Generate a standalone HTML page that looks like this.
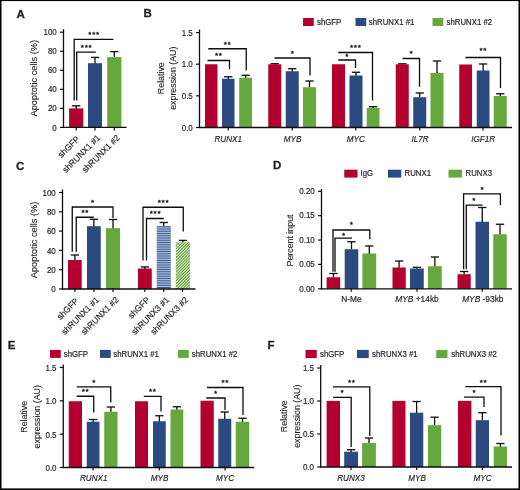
<!DOCTYPE html>
<html lang="en">
<head>
<meta charset="utf-8">
<title>Figure: RUNX1 / RUNX3 knockdown</title>
<style>
html,body{margin:0;padding:0;background:#fff;}
body{width:520px;height:490px;overflow:hidden;}
svg{display:block;}
svg text{font-family:"Liberation Sans",Arial,Helvetica,sans-serif;fill:#231f20;stroke:#231f20;stroke-linejoin:round;}
</style>
</head>
<body>
<svg width="520" height="490" viewBox="0 0 520 490" role="img" aria-label="Bar charts, panels A to F">
<defs>
<filter id="soft" x="-2%" y="-2%" width="104%" height="104%" color-interpolation-filters="sRGB"><feGaussianBlur stdDeviation="0.38"/></filter>
<pattern id="hb" width="2.25" height="2.25" patternUnits="userSpaceOnUse">
<rect width="2.25" height="2.25" fill="#a9bad8"/><rect y="0.4" width="2.25" height="1.05" fill="#3f5c92"/>
</pattern>
<pattern id="hg" width="2.05" height="2.05" patternUnits="userSpaceOnUse" patternTransform="rotate(-45)">
<rect width="2.05" height="2.05" fill="#e6f1dc"/><rect y="0.3" width="2.05" height="1.08" fill="#5a9f31"/>
</pattern>
</defs>
<rect x="0" y="0" width="520" height="490" fill="#ffffff"/>
<g filter="url(#soft)">
<text transform="translate(16.4 18)" font-size="11.6" stroke-width="0.28" font-weight="bold">A</text>
<text transform="translate(143.4 17.4)" font-size="11.5" stroke-width="0.28" font-weight="bold">B</text>
<text transform="translate(16 169.7)" font-size="11.5" stroke-width="0.28" font-weight="bold">C</text>
<text transform="translate(272.9 169.1)" font-size="11.5" stroke-width="0.28" font-weight="bold">D</text>
<text transform="translate(7.8 349.2)" font-size="11.5" stroke-width="0.28" font-weight="bold">E</text>
<text transform="translate(267.6 349)" font-size="11.5" stroke-width="0.28" font-weight="bold">F</text>
<line x1="63.5" y1="29.2" x2="63.5" y2="127.9" stroke="#0d0d0d" stroke-width="1.3"/>
<line x1="60" y1="127.4" x2="63.5" y2="127.4" stroke="#0d0d0d" stroke-width="1.2"/>
<text transform="translate(56.8 130.52) scale(0.95 1)" font-size="8.4" stroke-width="0.18" text-anchor="end">0</text>
<line x1="60" y1="108.36" x2="63.5" y2="108.36" stroke="#0d0d0d" stroke-width="1.2"/>
<text transform="translate(56.8 111.48) scale(0.95 1)" font-size="8.4" stroke-width="0.18" text-anchor="end">20</text>
<line x1="60" y1="89.32" x2="63.5" y2="89.32" stroke="#0d0d0d" stroke-width="1.2"/>
<text transform="translate(56.8 92.44) scale(0.95 1)" font-size="8.4" stroke-width="0.18" text-anchor="end">40</text>
<line x1="60" y1="70.28" x2="63.5" y2="70.28" stroke="#0d0d0d" stroke-width="1.2"/>
<text transform="translate(56.8 73.4) scale(0.95 1)" font-size="8.4" stroke-width="0.18" text-anchor="end">60</text>
<line x1="60" y1="51.24" x2="63.5" y2="51.24" stroke="#0d0d0d" stroke-width="1.2"/>
<text transform="translate(56.8 54.36) scale(0.95 1)" font-size="8.4" stroke-width="0.18" text-anchor="end">80</text>
<line x1="60" y1="32.2" x2="63.5" y2="32.2" stroke="#0d0d0d" stroke-width="1.2"/>
<text transform="translate(56.8 35.32) scale(0.95 1)" font-size="8.4" stroke-width="0.18" text-anchor="end">100</text>
<line x1="76.2" y1="105.8" x2="76.2" y2="108.9" stroke="#0d0d0d" stroke-width="1.3"/>
<line x1="72.05" y1="105.8" x2="80.35" y2="105.8" stroke="#0d0d0d" stroke-width="1.3"/>
<rect x="69.1" y="108.4" width="14.2" height="19" fill="#b3002f"/>
<line x1="95" y1="57.4" x2="95" y2="63.7" stroke="#0d0d0d" stroke-width="1.3"/>
<line x1="90.85" y1="57.4" x2="99.15" y2="57.4" stroke="#0d0d0d" stroke-width="1.3"/>
<rect x="88" y="63.2" width="14" height="64.2" fill="#2a4a80"/>
<line x1="114.3" y1="51.6" x2="114.3" y2="57.6" stroke="#0d0d0d" stroke-width="1.3"/>
<line x1="110.15" y1="51.6" x2="118.45" y2="51.6" stroke="#0d0d0d" stroke-width="1.3"/>
<rect x="107.2" y="57.1" width="14.2" height="70.3" fill="#67a83e"/>
<line x1="62.85" y1="127.4" x2="126.5" y2="127.4" stroke="#0d0d0d" stroke-width="1.3"/>
<line x1="76.2" y1="127.4" x2="76.2" y2="130.4" stroke="#0d0d0d" stroke-width="1.2"/>
<line x1="95" y1="127.4" x2="95" y2="130.4" stroke="#0d0d0d" stroke-width="1.2"/>
<line x1="114.3" y1="127.4" x2="114.3" y2="130.4" stroke="#0d0d0d" stroke-width="1.2"/>
<text transform="translate(94.17 37.1)" font-size="8" stroke-width="0.4" text-anchor="middle" letter-spacing="0.75">***</text>
<path d="M74.2 100.6 L74.2 39.3 L113.4 39.3" fill="none" stroke="#0d0d0d" stroke-width="1.3"/>
<text transform="translate(86.62 49.9)" font-size="8" stroke-width="0.4" text-anchor="middle" letter-spacing="0.75">***</text>
<path d="M76.7 100.6 L76.7 52.1 L95.8 52.1" fill="none" stroke="#0d0d0d" stroke-width="1.3"/>
<text transform="translate(37.1 78.2) rotate(-90) scale(0.94 1)" font-size="9.85" stroke-width="0.12" text-anchor="middle">Apoptotic cells (%)</text>
<text transform="translate(78 137.5) rotate(-45) scale(0.96 1)" font-size="8.8" stroke-width="0.18" text-anchor="end" dominant-baseline="central">shGFP</text>
<text transform="translate(98.7 136.3) rotate(-45) scale(0.96 1)" font-size="8.8" stroke-width="0.18" text-anchor="end" dominant-baseline="central">shRUNX1 #1</text>
<text transform="translate(118.2 136.3) rotate(-45) scale(0.96 1)" font-size="8.8" stroke-width="0.18" text-anchor="end" dominant-baseline="central">shRUNX1 #2</text>
<g transform="translate(0 0.5)">
<line x1="199.5" y1="29" x2="199.5" y2="127.5" stroke="#0d0d0d" stroke-width="1.3"/>
<line x1="196" y1="127" x2="199.5" y2="127" stroke="#0d0d0d" stroke-width="1.2"/>
<text transform="translate(192.8 130.12) scale(0.95 1)" font-size="8.4" stroke-width="0.18" text-anchor="end">0.0</text>
<line x1="196" y1="95.35" x2="199.5" y2="95.35" stroke="#0d0d0d" stroke-width="1.2"/>
<text transform="translate(192.8 98.47) scale(0.95 1)" font-size="8.4" stroke-width="0.18" text-anchor="end">0.5</text>
<line x1="196" y1="63.7" x2="199.5" y2="63.7" stroke="#0d0d0d" stroke-width="1.2"/>
<text transform="translate(192.8 66.82) scale(0.95 1)" font-size="8.4" stroke-width="0.18" text-anchor="end">1.0</text>
<line x1="196" y1="32.05" x2="199.5" y2="32.05" stroke="#0d0d0d" stroke-width="1.2"/>
<text transform="translate(192.8 35.17) scale(0.95 1)" font-size="8.4" stroke-width="0.18" text-anchor="end">1.5</text>
<rect x="205" y="63.75" width="12.5" height="63.25" fill="#b3002f"/>
<line x1="228.25" y1="76.25" x2="228.25" y2="78.75" stroke="#0d0d0d" stroke-width="1.3"/>
<line x1="224.1" y1="76.25" x2="232.4" y2="76.25" stroke="#0d0d0d" stroke-width="1.3"/>
<rect x="222" y="78.25" width="12.5" height="48.75" fill="#2a4a80"/>
<line x1="245.62" y1="74.75" x2="245.62" y2="77.75" stroke="#0d0d0d" stroke-width="1.3"/>
<line x1="241.47" y1="74.75" x2="249.78" y2="74.75" stroke="#0d0d0d" stroke-width="1.3"/>
<rect x="239.25" y="77.25" width="12.75" height="49.75" fill="#67a83e"/>
<line x1="274.75" y1="63.2" x2="274.75" y2="64.25" stroke="#0d0d0d" stroke-width="1.3"/>
<line x1="270.6" y1="63.2" x2="278.9" y2="63.2" stroke="#0d0d0d" stroke-width="1.3"/>
<rect x="268.25" y="63.75" width="13" height="63.25" fill="#b3002f"/>
<line x1="292.25" y1="68.25" x2="292.25" y2="71.25" stroke="#0d0d0d" stroke-width="1.3"/>
<line x1="288.1" y1="68.25" x2="296.4" y2="68.25" stroke="#0d0d0d" stroke-width="1.3"/>
<rect x="285.75" y="70.75" width="13" height="56.25" fill="#2a4a80"/>
<line x1="309.5" y1="80.5" x2="309.5" y2="87.25" stroke="#0d0d0d" stroke-width="1.3"/>
<line x1="305.35" y1="80.5" x2="313.65" y2="80.5" stroke="#0d0d0d" stroke-width="1.3"/>
<rect x="303" y="86.75" width="13" height="40.25" fill="#67a83e"/>
<rect x="332" y="63.75" width="13" height="63.25" fill="#b3002f"/>
<line x1="356" y1="71.75" x2="356" y2="75.5" stroke="#0d0d0d" stroke-width="1.3"/>
<line x1="351.85" y1="71.75" x2="360.15" y2="71.75" stroke="#0d0d0d" stroke-width="1.3"/>
<rect x="349.5" y="75" width="13" height="52" fill="#2a4a80"/>
<line x1="373.12" y1="106.25" x2="373.12" y2="108" stroke="#0d0d0d" stroke-width="1.3"/>
<line x1="368.98" y1="106.25" x2="377.27" y2="106.25" stroke="#0d0d0d" stroke-width="1.3"/>
<rect x="366.75" y="107.5" width="12.75" height="19.5" fill="#67a83e"/>
<line x1="402.25" y1="63.3" x2="402.25" y2="64.25" stroke="#0d0d0d" stroke-width="1.3"/>
<line x1="398.1" y1="63.3" x2="406.4" y2="63.3" stroke="#0d0d0d" stroke-width="1.3"/>
<rect x="395.75" y="63.75" width="13" height="63.25" fill="#b3002f"/>
<line x1="419.75" y1="92.5" x2="419.75" y2="97.25" stroke="#0d0d0d" stroke-width="1.3"/>
<line x1="415.6" y1="92.5" x2="423.9" y2="92.5" stroke="#0d0d0d" stroke-width="1.3"/>
<rect x="413.25" y="96.75" width="13" height="30.25" fill="#2a4a80"/>
<line x1="437" y1="60.5" x2="437" y2="73" stroke="#0d0d0d" stroke-width="1.3"/>
<line x1="432.85" y1="60.5" x2="441.15" y2="60.5" stroke="#0d0d0d" stroke-width="1.3"/>
<rect x="430.5" y="72.5" width="13" height="54.5" fill="#67a83e"/>
<rect x="459.25" y="64" width="12.75" height="63" fill="#b3002f"/>
<line x1="483.12" y1="63.5" x2="483.12" y2="70.5" stroke="#0d0d0d" stroke-width="1.3"/>
<line x1="478.98" y1="63.5" x2="487.27" y2="63.5" stroke="#0d0d0d" stroke-width="1.3"/>
<rect x="476.75" y="70" width="12.75" height="57" fill="#2a4a80"/>
<line x1="500.25" y1="93.25" x2="500.25" y2="96" stroke="#0d0d0d" stroke-width="1.3"/>
<line x1="496.1" y1="93.25" x2="504.4" y2="93.25" stroke="#0d0d0d" stroke-width="1.3"/>
<rect x="493.75" y="95.5" width="13" height="31.5" fill="#67a83e"/>
<line x1="198.85" y1="127" x2="512" y2="127" stroke="#0d0d0d" stroke-width="1.3"/>
<line x1="228.25" y1="127" x2="228.25" y2="130" stroke="#0d0d0d" stroke-width="1.2"/>
<line x1="292.25" y1="127" x2="292.25" y2="130" stroke="#0d0d0d" stroke-width="1.2"/>
<line x1="355.75" y1="127" x2="355.75" y2="130" stroke="#0d0d0d" stroke-width="1.2"/>
<line x1="419.75" y1="127" x2="419.75" y2="130" stroke="#0d0d0d" stroke-width="1.2"/>
<line x1="483" y1="127" x2="483" y2="130" stroke="#0d0d0d" stroke-width="1.2"/>
<text transform="translate(227.62 46.05)" font-size="8" stroke-width="0.4" text-anchor="middle" letter-spacing="0.75">**</text>
<path d="M208.25 48.25 L246.25 48.25 L246.25 70" fill="none" stroke="#0d0d0d" stroke-width="1.3"/>
<text transform="translate(218.87 57.8)" font-size="8" stroke-width="0.4" text-anchor="middle" letter-spacing="0.75">**</text>
<path d="M207.5 60 L229.5 60 L229.5 68.75" fill="none" stroke="#0d0d0d" stroke-width="1.3"/>
<text transform="translate(292.62 55.3)" font-size="8" stroke-width="0.4" text-anchor="middle" letter-spacing="0.75">*</text>
<path d="M274.5 57.5 L310 57.5 L310 75" fill="none" stroke="#0d0d0d" stroke-width="1.3"/>
<text transform="translate(355.75 49.8)" font-size="8" stroke-width="0.4" text-anchor="middle" letter-spacing="0.75">***</text>
<path d="M338.25 52 L372.5 52 L372.5 100" fill="none" stroke="#0d0d0d" stroke-width="1.3"/>
<text transform="translate(347.25 58.8)" font-size="8" stroke-width="0.4" text-anchor="middle" letter-spacing="0.75">*</text>
<path d="M338.25 59.5 L355.5 59.5 L355.5 67.5" fill="none" stroke="#0d0d0d" stroke-width="1.3"/>
<text transform="translate(411.37 55.8)" font-size="8" stroke-width="0.4" text-anchor="middle" letter-spacing="0.75">*</text>
<path d="M402.5 58 L419.5 58 L419.5 86.25" fill="none" stroke="#0d0d0d" stroke-width="1.3"/>
<text transform="translate(483.37 52)" font-size="8" stroke-width="0.4" text-anchor="middle" letter-spacing="0.75">**</text>
<path d="M465.5 57 L500.5 57 L500.5 87.5" fill="none" stroke="#0d0d0d" stroke-width="1.3"/>
<text transform="translate(228.25 141.2) scale(0.95 1)" font-size="8.6" stroke-width="0.18" text-anchor="middle" font-style="italic">RUNX1</text>
<text transform="translate(292.5 141.2) scale(0.95 1)" font-size="8.6" stroke-width="0.18" text-anchor="middle" font-style="italic">MYB</text>
<text transform="translate(355.75 141.2) scale(0.95 1)" font-size="8.6" stroke-width="0.18" text-anchor="middle" font-style="italic">MYC</text>
<text transform="translate(420 141.2) scale(0.95 1)" font-size="8.6" stroke-width="0.18" text-anchor="middle" font-style="italic">IL7R</text>
<text transform="translate(483.25 141.2) scale(0.95 1)" font-size="8.6" stroke-width="0.18" text-anchor="middle" font-style="italic">IGF1R</text>
<text transform="translate(163.6 77.7) rotate(-90) scale(0.94 1)" font-size="9.4" stroke-width="0.12" text-anchor="middle">Relative</text>
<text transform="translate(176 77.7) rotate(-90) scale(0.94 1)" font-size="9.4" stroke-width="0.12" text-anchor="middle">expression (AU)</text>
<rect x="303" y="17.5" width="10.75" height="8" fill="#b3002f"/>
<text transform="translate(317 24.2) scale(0.93 1)" font-size="8.4" stroke-width="0.2">shGFP</text>
<rect x="355.5" y="17.5" width="10.75" height="8" fill="#2a4a80"/>
<text transform="translate(368.75 24.2) scale(0.93 1)" font-size="8.4" stroke-width="0.2">shRUNX1 #1</text>
<rect x="432.5" y="17.5" width="10.75" height="8" fill="#67a83e"/>
<text transform="translate(446.5 24.2) scale(0.93 1)" font-size="8.4" stroke-width="0.2">shRUNX1 #2</text>
<line x1="62.5" y1="189" x2="62.5" y2="289" stroke="#0d0d0d" stroke-width="1.3"/>
<line x1="59" y1="288.5" x2="62.5" y2="288.5" stroke="#0d0d0d" stroke-width="1.2"/>
<text transform="translate(55.8 291.62) scale(0.95 1)" font-size="8.4" stroke-width="0.18" text-anchor="end">0</text>
<line x1="59" y1="269.2" x2="62.5" y2="269.2" stroke="#0d0d0d" stroke-width="1.2"/>
<text transform="translate(55.8 272.32) scale(0.95 1)" font-size="8.4" stroke-width="0.18" text-anchor="end">20</text>
<line x1="59" y1="249.9" x2="62.5" y2="249.9" stroke="#0d0d0d" stroke-width="1.2"/>
<text transform="translate(55.8 253.02) scale(0.95 1)" font-size="8.4" stroke-width="0.18" text-anchor="end">40</text>
<line x1="59" y1="230.6" x2="62.5" y2="230.6" stroke="#0d0d0d" stroke-width="1.2"/>
<text transform="translate(55.8 233.72) scale(0.95 1)" font-size="8.4" stroke-width="0.18" text-anchor="end">60</text>
<line x1="59" y1="211.3" x2="62.5" y2="211.3" stroke="#0d0d0d" stroke-width="1.2"/>
<text transform="translate(55.8 214.42) scale(0.95 1)" font-size="8.4" stroke-width="0.18" text-anchor="end">80</text>
<line x1="59" y1="192" x2="62.5" y2="192" stroke="#0d0d0d" stroke-width="1.2"/>
<text transform="translate(55.8 195.12) scale(0.95 1)" font-size="8.4" stroke-width="0.18" text-anchor="end">100</text>
<line x1="74.88" y1="254.5" x2="74.88" y2="260" stroke="#0d0d0d" stroke-width="1.3"/>
<line x1="70.72" y1="254.5" x2="79.03" y2="254.5" stroke="#0d0d0d" stroke-width="1.3"/>
<rect x="68" y="259.5" width="13.75" height="29" fill="#b3002f"/>
<line x1="93.88" y1="218.75" x2="93.88" y2="226.2" stroke="#0d0d0d" stroke-width="1.3"/>
<line x1="89.72" y1="218.75" x2="98.03" y2="218.75" stroke="#0d0d0d" stroke-width="1.3"/>
<rect x="87" y="225.7" width="13.75" height="62.8" fill="#2a4a80"/>
<line x1="113" y1="219" x2="113" y2="228.2" stroke="#0d0d0d" stroke-width="1.3"/>
<line x1="108.85" y1="219" x2="117.15" y2="219" stroke="#0d0d0d" stroke-width="1.3"/>
<rect x="106" y="227.7" width="14" height="60.8" fill="#67a83e"/>
<line x1="144.88" y1="266.4" x2="144.88" y2="268.5" stroke="#0d0d0d" stroke-width="1.3"/>
<line x1="140.72" y1="266.4" x2="149.03" y2="266.4" stroke="#0d0d0d" stroke-width="1.3"/>
<rect x="138" y="268" width="13.75" height="20.5" fill="#b3002f"/>
<line x1="163.75" y1="222" x2="163.75" y2="226.2" stroke="#0d0d0d" stroke-width="1.3"/>
<line x1="159.6" y1="222" x2="167.9" y2="222" stroke="#0d0d0d" stroke-width="1.3"/>
<rect x="156.75" y="225.7" width="14" height="62.8" fill="#a9bad8"/>
<path d="M156.75 225.7h14v1.15h-14zM156.75 227.95h14v1.15h-14zM156.75 230.2h14v1.15h-14zM156.75 232.45h14v1.15h-14zM156.75 234.7h14v1.15h-14zM156.75 236.95h14v1.15h-14zM156.75 239.2h14v1.15h-14zM156.75 241.45h14v1.15h-14zM156.75 243.7h14v1.15h-14zM156.75 245.95h14v1.15h-14zM156.75 248.2h14v1.15h-14zM156.75 250.45h14v1.15h-14zM156.75 252.7h14v1.15h-14zM156.75 254.95h14v1.15h-14zM156.75 257.2h14v1.15h-14zM156.75 259.45h14v1.15h-14zM156.75 261.7h14v1.15h-14zM156.75 263.95h14v1.15h-14zM156.75 266.2h14v1.15h-14zM156.75 268.45h14v1.15h-14zM156.75 270.7h14v1.15h-14zM156.75 272.95h14v1.15h-14zM156.75 275.2h14v1.15h-14zM156.75 277.45h14v1.15h-14zM156.75 279.7h14v1.15h-14zM156.75 281.95h14v1.15h-14zM156.75 284.2h14v1.15h-14zM156.75 286.45h14v1.15h-14z" fill="#3f5c92"/>
<line x1="182.85" y1="239.9" x2="182.85" y2="242.2" stroke="#0d0d0d" stroke-width="1.3"/>
<line x1="178.7" y1="239.9" x2="187" y2="239.9" stroke="#0d0d0d" stroke-width="1.3"/>
<rect x="175.8" y="241.7" width="14.1" height="46.8" fill="url(#hg)"/>
<line x1="61.85" y1="288.5" x2="195.5" y2="288.5" stroke="#0d0d0d" stroke-width="1.3"/>
<line x1="74.9" y1="288.5" x2="74.9" y2="291.5" stroke="#0d0d0d" stroke-width="1.2"/>
<line x1="93.9" y1="288.5" x2="93.9" y2="291.5" stroke="#0d0d0d" stroke-width="1.2"/>
<line x1="113" y1="288.5" x2="113" y2="291.5" stroke="#0d0d0d" stroke-width="1.2"/>
<line x1="144.9" y1="288.5" x2="144.9" y2="291.5" stroke="#0d0d0d" stroke-width="1.2"/>
<line x1="163.75" y1="288.5" x2="163.75" y2="291.5" stroke="#0d0d0d" stroke-width="1.2"/>
<line x1="182.5" y1="288.5" x2="182.5" y2="291.5" stroke="#0d0d0d" stroke-width="1.2"/>
<text transform="translate(93 204.3)" font-size="8" stroke-width="0.4" text-anchor="middle" letter-spacing="0.75">*</text>
<path d="M72.25 251.25 L72.25 206.5 L113 206.5 L113 217.5" fill="none" stroke="#0d0d0d" stroke-width="1.3"/>
<text transform="translate(85.37 214.55)" font-size="8" stroke-width="0.4" text-anchor="middle" letter-spacing="0.75">**</text>
<path d="M76.25 251.25 L76.25 216.75 L93.75 216.75" fill="none" stroke="#0d0d0d" stroke-width="1.3"/>
<text transform="translate(163.5 204.55)" font-size="8" stroke-width="0.4" text-anchor="middle" letter-spacing="0.75">***</text>
<path d="M143 260 L143 206.75 L183.25 206.75 L183.25 231" fill="none" stroke="#0d0d0d" stroke-width="1.3"/>
<text transform="translate(155.5 215.8)" font-size="8" stroke-width="0.4" text-anchor="middle" letter-spacing="0.75">***</text>
<path d="M146.5 260 L146.5 218 L163.75 218" fill="none" stroke="#0d0d0d" stroke-width="1.3"/>
<text transform="translate(37 239.4) rotate(-90) scale(0.94 1)" font-size="9.85" stroke-width="0.12" text-anchor="middle">Apoptotic cells (%)</text>
<text transform="translate(76.9 299) rotate(-45) scale(0.96 1)" font-size="8.8" stroke-width="0.18" text-anchor="end" dominant-baseline="central">shGFP</text>
<text transform="translate(97.7 297.8) rotate(-45) scale(0.96 1)" font-size="8.8" stroke-width="0.18" text-anchor="end" dominant-baseline="central">shRUNX1 #1</text>
<text transform="translate(117.2 297.8) rotate(-45) scale(0.96 1)" font-size="8.8" stroke-width="0.18" text-anchor="end" dominant-baseline="central">shRUNX1 #2</text>
<text transform="translate(148.2 297.8) rotate(-45) scale(0.96 1)" font-size="8.8" stroke-width="0.18" text-anchor="end" dominant-baseline="central">shGFP</text>
<text transform="translate(167.7 297.8) rotate(-45) scale(0.96 1)" font-size="8.8" stroke-width="0.18" text-anchor="end" dominant-baseline="central">shRUNX3 #1</text>
<text transform="translate(186.7 297.8) rotate(-45) scale(0.96 1)" font-size="8.8" stroke-width="0.18" text-anchor="end" dominant-baseline="central">shRUNX3 #2</text>
<line x1="321.5" y1="188.5" x2="321.5" y2="288.8" stroke="#0d0d0d" stroke-width="1.3"/>
<line x1="318" y1="288.3" x2="321.5" y2="288.3" stroke="#0d0d0d" stroke-width="1.2"/>
<text transform="translate(314.8 291.02) scale(0.95 1)" font-size="8.4" stroke-width="0.18" text-anchor="end">0.00</text>
<line x1="318" y1="263.93" x2="321.5" y2="263.93" stroke="#0d0d0d" stroke-width="1.2"/>
<text transform="translate(314.8 266.65) scale(0.95 1)" font-size="8.4" stroke-width="0.18" text-anchor="end">0.05</text>
<line x1="318" y1="239.55" x2="321.5" y2="239.55" stroke="#0d0d0d" stroke-width="1.2"/>
<text transform="translate(314.8 242.27) scale(0.95 1)" font-size="8.4" stroke-width="0.18" text-anchor="end">0.10</text>
<line x1="318" y1="215.18" x2="321.5" y2="215.18" stroke="#0d0d0d" stroke-width="1.2"/>
<text transform="translate(314.8 217.9) scale(0.95 1)" font-size="8.4" stroke-width="0.18" text-anchor="end">0.15</text>
<line x1="318" y1="190.8" x2="321.5" y2="190.8" stroke="#0d0d0d" stroke-width="1.2"/>
<text transform="translate(314.8 193.52) scale(0.95 1)" font-size="8.4" stroke-width="0.18" text-anchor="end">0.20</text>
<line x1="333.4" y1="273" x2="333.4" y2="277.25" stroke="#0d0d0d" stroke-width="1.3"/>
<line x1="329.25" y1="273" x2="337.55" y2="273" stroke="#0d0d0d" stroke-width="1.3"/>
<rect x="326.6" y="276.75" width="13.6" height="11.55" fill="#b3002f"/>
<line x1="351.5" y1="241.25" x2="351.5" y2="249.25" stroke="#0d0d0d" stroke-width="1.3"/>
<line x1="347.35" y1="241.25" x2="355.65" y2="241.25" stroke="#0d0d0d" stroke-width="1.3"/>
<rect x="344.7" y="248.75" width="13.6" height="39.55" fill="#2a4a80"/>
<line x1="369.3" y1="245.5" x2="369.3" y2="253.5" stroke="#0d0d0d" stroke-width="1.3"/>
<line x1="365.15" y1="245.5" x2="373.45" y2="245.5" stroke="#0d0d0d" stroke-width="1.3"/>
<rect x="362.4" y="253" width="13.8" height="35.3" fill="#67a83e"/>
<line x1="399.12" y1="260.5" x2="399.12" y2="267.5" stroke="#0d0d0d" stroke-width="1.3"/>
<line x1="394.98" y1="260.5" x2="403.27" y2="260.5" stroke="#0d0d0d" stroke-width="1.3"/>
<rect x="392.5" y="267" width="13.25" height="21.3" fill="#b3002f"/>
<line x1="416.88" y1="266.8" x2="416.88" y2="268.5" stroke="#0d0d0d" stroke-width="1.3"/>
<line x1="412.73" y1="266.8" x2="421.02" y2="266.8" stroke="#0d0d0d" stroke-width="1.3"/>
<rect x="410" y="268" width="13.75" height="20.3" fill="#2a4a80"/>
<line x1="434.88" y1="256.5" x2="434.88" y2="266.25" stroke="#0d0d0d" stroke-width="1.3"/>
<line x1="430.73" y1="256.5" x2="439.02" y2="256.5" stroke="#0d0d0d" stroke-width="1.3"/>
<rect x="428" y="265.75" width="13.75" height="22.55" fill="#67a83e"/>
<line x1="464.12" y1="271" x2="464.12" y2="274.25" stroke="#0d0d0d" stroke-width="1.3"/>
<line x1="459.98" y1="271" x2="468.27" y2="271" stroke="#0d0d0d" stroke-width="1.3"/>
<rect x="457.5" y="273.75" width="13.25" height="14.55" fill="#b3002f"/>
<line x1="482.25" y1="207" x2="482.25" y2="221.75" stroke="#0d0d0d" stroke-width="1.3"/>
<line x1="478.1" y1="207" x2="486.4" y2="207" stroke="#0d0d0d" stroke-width="1.3"/>
<rect x="475.5" y="221.25" width="13.5" height="67.05" fill="#2a4a80"/>
<line x1="500" y1="223.75" x2="500" y2="234.25" stroke="#0d0d0d" stroke-width="1.3"/>
<line x1="495.85" y1="223.75" x2="504.15" y2="223.75" stroke="#0d0d0d" stroke-width="1.3"/>
<rect x="493.25" y="233.75" width="13.5" height="54.55" fill="#67a83e"/>
<line x1="320.85" y1="288.3" x2="512" y2="288.3" stroke="#0d0d0d" stroke-width="1.3"/>
<line x1="351.2" y1="288.3" x2="351.2" y2="291.3" stroke="#0d0d0d" stroke-width="1.2"/>
<line x1="417" y1="288.3" x2="417" y2="291.3" stroke="#0d0d0d" stroke-width="1.2"/>
<line x1="482.2" y1="288.3" x2="482.2" y2="291.3" stroke="#0d0d0d" stroke-width="1.2"/>
<text transform="translate(351.77 226.4)" font-size="8" stroke-width="0.4" text-anchor="middle" letter-spacing="0.75">*</text>
<path d="M333 271.25 L333 229.5 L369.8 229.5 L369.8 238.75" fill="none" stroke="#0d0d0d" stroke-width="1.3"/>
<text transform="translate(343.87 237.3)" font-size="8" stroke-width="0.4" text-anchor="middle" letter-spacing="0.75">*</text>
<path d="M335 271.25 L335 237.7 L352 237.7" fill="none" stroke="#0d0d0d" stroke-width="1.3"/>
<text transform="translate(482.37 191.2)" font-size="8" stroke-width="0.4" text-anchor="middle" letter-spacing="0.75">*</text>
<path d="M463.6 268.75 L463.6 193.4 L500.4 193.4 L500.4 204.5" fill="none" stroke="#0d0d0d" stroke-width="1.3"/>
<text transform="translate(474.27 202.9)" font-size="8" stroke-width="0.4" text-anchor="middle" letter-spacing="0.75">*</text>
<path d="M466.3 268.75 L466.3 204.6 L482.5 204.6" fill="none" stroke="#0d0d0d" stroke-width="1.3"/>
<text transform="translate(351.5 301.7) scale(0.95 1)" font-size="8.8" stroke-width="0.18" text-anchor="middle">N-Me</text>
<text transform="translate(417 301.7) scale(0.95 1)" font-size="8.8" stroke-width="0.18" text-anchor="middle"><tspan font-style="italic">MYB</tspan> +14kb</text>
<text transform="translate(482.8 301.7) scale(0.95 1)" font-size="8.8" stroke-width="0.18" text-anchor="middle"><tspan font-style="italic">MYB</tspan> -93kb</text>
<text transform="translate(292.5 240) rotate(-90) scale(0.94 1)" font-size="9.4" stroke-width="0.12" text-anchor="middle">Percent input</text>
<rect x="344.25" y="169.2" width="13.25" height="7.9" fill="#b3002f"/>
<text transform="translate(360.5 175.8) scale(0.93 1)" font-size="8.4" stroke-width="0.2">IgG</text>
<rect x="388" y="169.2" width="13.25" height="7.9" fill="#2a4a80"/>
<text transform="translate(404.5 175.8) scale(0.93 1)" font-size="8.4" stroke-width="0.2">RUNX1</text>
<rect x="448.5" y="169.2" width="13.5" height="7.9" fill="#67a83e"/>
<text transform="translate(465.5 175.8) scale(0.93 1)" font-size="8.4" stroke-width="0.2">RUNX3</text>
<line x1="63.25" y1="364" x2="63.25" y2="467.5" stroke="#0d0d0d" stroke-width="1.3"/>
<line x1="59.75" y1="467" x2="63.25" y2="467" stroke="#0d0d0d" stroke-width="1.2"/>
<text transform="translate(56.55 470.52) scale(0.95 1)" font-size="8.4" stroke-width="0.18" text-anchor="end">0.0</text>
<line x1="59.75" y1="433.65" x2="63.25" y2="433.65" stroke="#0d0d0d" stroke-width="1.2"/>
<text transform="translate(56.55 437.17) scale(0.95 1)" font-size="8.4" stroke-width="0.18" text-anchor="end">0.5</text>
<line x1="59.75" y1="400.3" x2="63.25" y2="400.3" stroke="#0d0d0d" stroke-width="1.2"/>
<text transform="translate(56.55 403.82) scale(0.95 1)" font-size="8.4" stroke-width="0.18" text-anchor="end">1.0</text>
<line x1="59.75" y1="366.95" x2="63.25" y2="366.95" stroke="#0d0d0d" stroke-width="1.2"/>
<text transform="translate(56.55 370.47) scale(0.95 1)" font-size="8.4" stroke-width="0.18" text-anchor="end">1.5</text>
<rect x="68.75" y="400.75" width="13.25" height="66.25" fill="#b3002f"/>
<line x1="93.12" y1="419" x2="93.12" y2="421.75" stroke="#0d0d0d" stroke-width="1.3"/>
<line x1="88.97" y1="419" x2="97.28" y2="419" stroke="#0d0d0d" stroke-width="1.3"/>
<rect x="86.75" y="421.25" width="12.75" height="45.75" fill="#2a4a80"/>
<line x1="110.88" y1="406.5" x2="110.88" y2="411.75" stroke="#0d0d0d" stroke-width="1.3"/>
<line x1="106.72" y1="406.5" x2="115.03" y2="406.5" stroke="#0d0d0d" stroke-width="1.3"/>
<rect x="104.25" y="411.25" width="13.25" height="55.75" fill="#67a83e"/>
<rect x="135" y="400.75" width="13" height="66.25" fill="#b3002f"/>
<line x1="159.38" y1="415.25" x2="159.38" y2="421.25" stroke="#0d0d0d" stroke-width="1.3"/>
<line x1="155.22" y1="415.25" x2="163.53" y2="415.25" stroke="#0d0d0d" stroke-width="1.3"/>
<rect x="153" y="420.75" width="12.75" height="46.25" fill="#2a4a80"/>
<line x1="176.88" y1="406.25" x2="176.88" y2="409.5" stroke="#0d0d0d" stroke-width="1.3"/>
<line x1="172.72" y1="406.25" x2="181.03" y2="406.25" stroke="#0d0d0d" stroke-width="1.3"/>
<rect x="170.5" y="409" width="12.75" height="58" fill="#67a83e"/>
<rect x="200.5" y="400.2" width="13.25" height="66.8" fill="#b3002f"/>
<line x1="224.75" y1="411.5" x2="224.75" y2="418.75" stroke="#0d0d0d" stroke-width="1.3"/>
<line x1="220.6" y1="411.5" x2="228.9" y2="411.5" stroke="#0d0d0d" stroke-width="1.3"/>
<rect x="218.25" y="418.25" width="13" height="48.75" fill="#2a4a80"/>
<line x1="242.5" y1="417.75" x2="242.5" y2="421.75" stroke="#0d0d0d" stroke-width="1.3"/>
<line x1="238.35" y1="417.75" x2="246.65" y2="417.75" stroke="#0d0d0d" stroke-width="1.3"/>
<rect x="235.75" y="421.25" width="13.5" height="45.75" fill="#67a83e"/>
<line x1="62.6" y1="467" x2="254.25" y2="467" stroke="#0d0d0d" stroke-width="1.3"/>
<line x1="93" y1="467" x2="93" y2="470" stroke="#0d0d0d" stroke-width="1.2"/>
<line x1="159.3" y1="467" x2="159.3" y2="470" stroke="#0d0d0d" stroke-width="1.2"/>
<line x1="225" y1="467" x2="225" y2="470" stroke="#0d0d0d" stroke-width="1.2"/>
<text transform="translate(94.12 384.1)" font-size="8" stroke-width="0.4" text-anchor="middle" letter-spacing="0.75">*</text>
<path d="M76.75 386.3 L110.75 386.3 L110.75 402" fill="none" stroke="#0d0d0d" stroke-width="1.3"/>
<text transform="translate(85.62 393.55)" font-size="8" stroke-width="0.4" text-anchor="middle" letter-spacing="0.75">**</text>
<path d="M76.75 395.75 L93.75 395.75 L93.75 412" fill="none" stroke="#0d0d0d" stroke-width="1.3"/>
<text transform="translate(152.75 393.7)" font-size="8" stroke-width="0.4" text-anchor="middle" letter-spacing="0.75">**</text>
<path d="M143.75 395.9 L161 395.9 L161 411" fill="none" stroke="#0d0d0d" stroke-width="1.3"/>
<text transform="translate(225.37 384.8)" font-size="8" stroke-width="0.4" text-anchor="middle" letter-spacing="0.75">**</text>
<path d="M207 387 L243 387 L243 414.5" fill="none" stroke="#0d0d0d" stroke-width="1.3"/>
<text transform="translate(216 395.3)" font-size="8" stroke-width="0.4" text-anchor="middle" letter-spacing="0.75">*</text>
<path d="M206.25 397.5 L225 397.5 L225 409.5" fill="none" stroke="#0d0d0d" stroke-width="1.3"/>
<text transform="translate(93.75 480) scale(0.95 1)" font-size="8.6" stroke-width="0.18" text-anchor="middle" font-style="italic">RUNX1</text>
<text transform="translate(159.5 480) scale(0.95 1)" font-size="8.6" stroke-width="0.18" text-anchor="middle" font-style="italic">MYB</text>
<text transform="translate(225 480) scale(0.95 1)" font-size="8.6" stroke-width="0.18" text-anchor="middle" font-style="italic">MYC</text>
<text transform="translate(27.3 416.3) rotate(-90) scale(0.94 1)" font-size="9.4" stroke-width="0.12" text-anchor="middle">Relative</text>
<text transform="translate(39.9 416.3) rotate(-90) scale(0.94 1)" font-size="9.4" stroke-width="0.12" text-anchor="middle">expression (AU)</text>
<rect x="50" y="349.4" width="10.75" height="8" fill="#b3002f"/>
<text transform="translate(63.75 356.1) scale(0.93 1)" font-size="8.4" stroke-width="0.2">shGFP</text>
<rect x="100" y="349.4" width="10.75" height="8" fill="#2a4a80"/>
<text transform="translate(113.25 356.1) scale(0.93 1)" font-size="8.4" stroke-width="0.2">shRUNX1 #1</text>
<rect x="178" y="349.4" width="10.75" height="8" fill="#67a83e"/>
<text transform="translate(191.75 356.1) scale(0.93 1)" font-size="8.4" stroke-width="0.2">shRUNX1 #2</text>
<line x1="320.7" y1="364.5" x2="320.7" y2="467" stroke="#0d0d0d" stroke-width="1.3"/>
<line x1="317.2" y1="466.5" x2="320.7" y2="466.5" stroke="#0d0d0d" stroke-width="1.2"/>
<text transform="translate(314 469.62) scale(0.95 1)" font-size="8.4" stroke-width="0.18" text-anchor="end">0.0</text>
<line x1="317.2" y1="433.5" x2="320.7" y2="433.5" stroke="#0d0d0d" stroke-width="1.2"/>
<text transform="translate(314 436.62) scale(0.95 1)" font-size="8.4" stroke-width="0.18" text-anchor="end">0.5</text>
<line x1="317.2" y1="400.5" x2="320.7" y2="400.5" stroke="#0d0d0d" stroke-width="1.2"/>
<text transform="translate(314 403.62) scale(0.95 1)" font-size="8.4" stroke-width="0.18" text-anchor="end">1.0</text>
<line x1="317.2" y1="367.5" x2="320.7" y2="367.5" stroke="#0d0d0d" stroke-width="1.2"/>
<text transform="translate(314 370.62) scale(0.95 1)" font-size="8.4" stroke-width="0.18" text-anchor="end">1.5</text>
<rect x="326.6" y="400.4" width="13.4" height="66.1" fill="#b3002f"/>
<line x1="351.1" y1="449.2" x2="351.1" y2="451.7" stroke="#0d0d0d" stroke-width="1.3"/>
<line x1="346.95" y1="449.2" x2="355.25" y2="449.2" stroke="#0d0d0d" stroke-width="1.3"/>
<rect x="344.2" y="451.2" width="13.8" height="15.3" fill="#2a4a80"/>
<line x1="369" y1="437.5" x2="369" y2="443" stroke="#0d0d0d" stroke-width="1.3"/>
<line x1="364.85" y1="437.5" x2="373.15" y2="437.5" stroke="#0d0d0d" stroke-width="1.3"/>
<rect x="362.1" y="442.5" width="13.8" height="24" fill="#67a83e"/>
<rect x="392.4" y="400.4" width="13.1" height="66.1" fill="#b3002f"/>
<line x1="416.62" y1="401" x2="416.62" y2="412.7" stroke="#0d0d0d" stroke-width="1.3"/>
<line x1="412.48" y1="401" x2="420.77" y2="401" stroke="#0d0d0d" stroke-width="1.3"/>
<rect x="410" y="412.2" width="13.25" height="54.3" fill="#2a4a80"/>
<line x1="434.62" y1="416.7" x2="434.62" y2="425.2" stroke="#0d0d0d" stroke-width="1.3"/>
<line x1="430.48" y1="416.7" x2="438.77" y2="416.7" stroke="#0d0d0d" stroke-width="1.3"/>
<rect x="428" y="424.7" width="13.25" height="41.8" fill="#67a83e"/>
<rect x="458" y="400.4" width="13.4" height="66.1" fill="#b3002f"/>
<line x1="482.38" y1="412.2" x2="482.38" y2="420.2" stroke="#0d0d0d" stroke-width="1.3"/>
<line x1="478.23" y1="412.2" x2="486.52" y2="412.2" stroke="#0d0d0d" stroke-width="1.3"/>
<rect x="475.75" y="419.7" width="13.25" height="46.8" fill="#2a4a80"/>
<line x1="500.38" y1="443" x2="500.38" y2="446.5" stroke="#0d0d0d" stroke-width="1.3"/>
<line x1="496.23" y1="443" x2="504.52" y2="443" stroke="#0d0d0d" stroke-width="1.3"/>
<rect x="493.75" y="446" width="13.25" height="20.5" fill="#67a83e"/>
<line x1="320.05" y1="466.5" x2="512" y2="466.5" stroke="#0d0d0d" stroke-width="1.3"/>
<line x1="351" y1="466.5" x2="351" y2="469.5" stroke="#0d0d0d" stroke-width="1.2"/>
<line x1="416.7" y1="466.5" x2="416.7" y2="469.5" stroke="#0d0d0d" stroke-width="1.2"/>
<line x1="482.3" y1="466.5" x2="482.3" y2="469.5" stroke="#0d0d0d" stroke-width="1.2"/>
<text transform="translate(351.77 384.2)" font-size="8" stroke-width="0.4" text-anchor="middle" letter-spacing="0.75">**</text>
<path d="M333 386.4 L369.8 386.4 L369.8 435.5" fill="none" stroke="#0d0d0d" stroke-width="1.3"/>
<text transform="translate(342.47 394.6)" font-size="8" stroke-width="0.4" text-anchor="middle" letter-spacing="0.75">*</text>
<path d="M333 396.8 L351.2 396.8 L351.2 446.5" fill="none" stroke="#0d0d0d" stroke-width="1.3"/>
<text transform="translate(483.52 384)" font-size="8" stroke-width="0.4" text-anchor="middle" letter-spacing="0.75">**</text>
<path d="M465.3 386.2 L501 386.2 L501 435" fill="none" stroke="#0d0d0d" stroke-width="1.3"/>
<text transform="translate(474.37 394.4)" font-size="8" stroke-width="0.4" text-anchor="middle" letter-spacing="0.75">*</text>
<path d="M464 396.6 L484 396.6 L484 406.6" fill="none" stroke="#0d0d0d" stroke-width="1.3"/>
<text transform="translate(351 480) scale(0.95 1)" font-size="8.6" stroke-width="0.18" text-anchor="middle" font-style="italic">RUNX3</text>
<text transform="translate(417 480) scale(0.95 1)" font-size="8.6" stroke-width="0.18" text-anchor="middle" font-style="italic">MYB</text>
<text transform="translate(482.5 480) scale(0.95 1)" font-size="8.6" stroke-width="0.18" text-anchor="middle" font-style="italic">MYC</text>
<text transform="translate(287 415.7) rotate(-90) scale(0.94 1)" font-size="9.4" stroke-width="0.12" text-anchor="middle">Relative</text>
<text transform="translate(299.6 415.7) rotate(-90) scale(0.94 1)" font-size="9.4" stroke-width="0.12" text-anchor="middle">expression (AU)</text>
<rect x="305.5" y="349.4" width="11.25" height="8.2" fill="#b3002f"/>
<text transform="translate(320 356.3) scale(0.93 1)" font-size="8.4" stroke-width="0.2">shGFP</text>
<rect x="357" y="349.4" width="11.75" height="8.2" fill="#2a4a80"/>
<text transform="translate(372 356.3) scale(0.93 1)" font-size="8.4" stroke-width="0.2">shRUNX3 #1</text>
<rect x="436.25" y="349.4" width="11.25" height="8.2" fill="#67a83e"/>
<text transform="translate(451.25 356.3) scale(0.93 1)" font-size="8.4" stroke-width="0.2">shRUNX3 #2</text>
</g>
</g>
<g fill="#000"><rect x="0" y="0" width="520" height="1.1"/><rect x="0" y="0" width="1.5" height="490"/><rect x="518.5" y="0" width="1.5" height="490"/><rect x="0" y="488.4" width="520" height="1.6"/></g>
</svg>
</body>
</html>
